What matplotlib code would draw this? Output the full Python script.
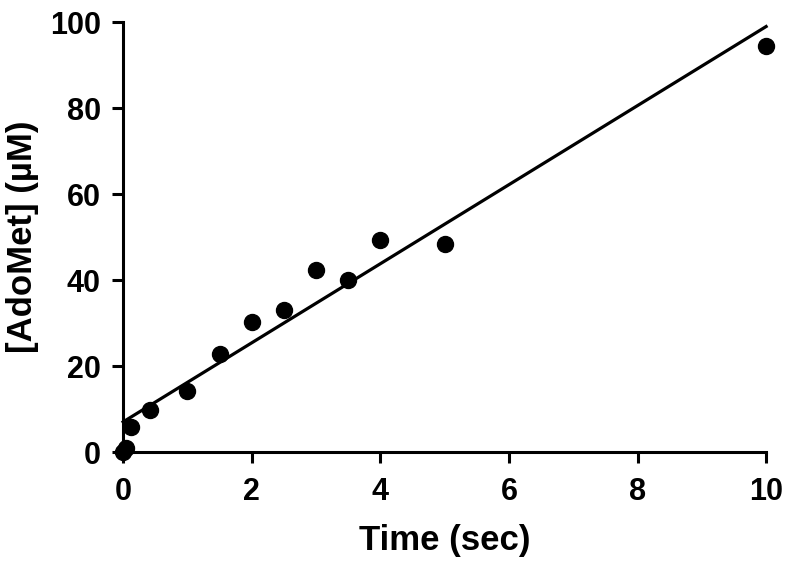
import matplotlib
matplotlib.use('Agg')
import matplotlib.pyplot as plt
import numpy as np

# measured AdoMet concentration vs time
time_sec = [0.0, 0.05, 0.12, 0.42, 1.0, 1.5, 2.0, 2.5, 3.0, 3.5, 4.0, 5.0, 10.0]
adomet_um = [0.0, 1.0, 5.8, 9.8, 14.2, 22.8, 30.2, 33.0, 42.3, 40.0, 49.3, 48.4, 94.4]

# linear fit shown on the chart
fit_slope = 9.2
fit_intercept = 7.0

x_ticks = [0, 2, 4, 6, 8, 10]
y_ticks = [0, 20, 40, 60, 80, 100]

plt.rcParams['font.family'] = ['Liberation Sans', 'DejaVu Sans']
plt.rcParams['font.weight'] = 'bold'

fig = plt.figure(figsize=(7.89, 5.70), dpi=100)
ax = fig.add_axes([0.156, 0.207, 0.815, 0.754])

xfit = np.array([0.0, 10.0])
ax.plot(xfit, fit_slope * xfit + fit_intercept, color='black', lw=2.3, clip_on=False)
ax.plot(time_sec, adomet_um, 'o', color='black', ms=11.5, clip_on=False, zorder=5)

ax.set_xlim(0, 10)
ax.set_ylim(0, 100)
ax.set_xticks(x_ticks)
ax.set_yticks(y_ticks)

for side in ['top', 'right']:
    ax.spines[side].set_visible(False)
for side in ['left', 'bottom']:
    ax.spines[side].set_linewidth(2.2)

ax.tick_params(width=2.2, length=8, labelsize=22)
ax.tick_params(axis='x', pad=10)
ax.tick_params(axis='y', pad=8)
for lab in ax.get_xticklabels() + ax.get_yticklabels():
    lab.set_fontweight('bold')

ax.set_xlabel('Time (sec)', fontsize=25, fontweight='bold', labelpad=12)
ax.set_ylabel('[AdoMet] (\u00b5M)', fontsize=25, fontweight='bold', labelpad=8)

fig.savefig('out.png', dpi=100)
